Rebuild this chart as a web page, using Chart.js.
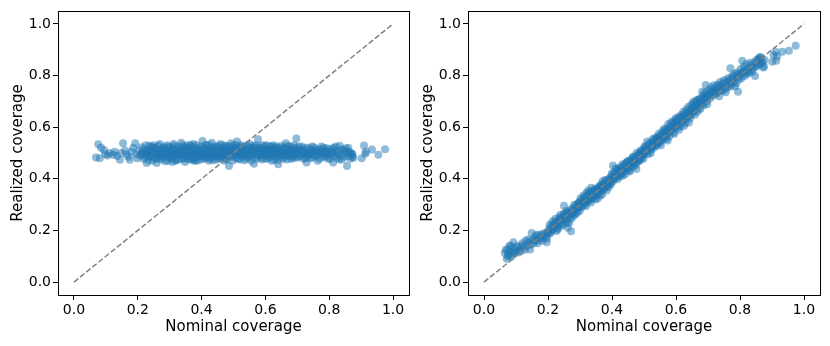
<!DOCTYPE html>
<html>
<head>
<meta charset="utf-8">
<script src="https://cdn.jsdelivr.net/npm/chart.js@4.4.1/dist/chart.umd.min.js"></script>
<style>
  html, body { margin: 0; padding: 0; background: #fff; }
  #wrap { position: relative; width: 830px; height: 346px; }
  #wrap canvas { position: absolute; top: 0; }
</style>
</head>
<body>
<div id="wrap">
  <canvas id="left" width="415" height="346" style="left:0"></canvas>
  <canvas id="right" width="415" height="346" style="left:415px"></canvas>
</div>
<script>
// [nominal, realized] pairs
const leftPoints = [
  [0.069,0.483],[0.076,0.534],[0.081,0.480],[0.085,0.520],[0.094,0.512],[0.098,0.495],[0.105,0.490],[0.112,0.500],
  [0.123,0.493],[0.128,0.505],[0.135,0.488],[0.144,0.474],[0.148,0.500],[0.154,0.538],[0.160,0.510],[0.165,0.495],
  [0.170,0.485],[0.175,0.474],[0.180,0.505],[0.186,0.520],[0.192,0.538],[0.195,0.495],[0.198,0.480],[0.203,0.510],
  [0.208,0.490],
  [0.212,0.522],[0.215,0.500],[0.218,0.478],[0.222,0.505],[0.225,0.530],[0.228,0.461],[0.230,0.492],[0.234,0.515],
  [0.237,0.485],[0.240,0.500],[0.243,0.525],[0.246,0.470],[0.249,0.508],[0.252,0.493],[0.255,0.518],[0.258,0.482],
  [0.259,0.461],[0.262,0.503],[0.265,0.528],[0.268,0.490],[0.270,0.512],[0.273,0.475],[0.276,0.500],[0.279,0.520],
  [0.282,0.486],[0.285,0.507],[0.288,0.495],[0.291,0.530],[0.294,0.470],[0.297,0.510],[0.300,0.490],[0.226,0.498],
  [0.264,0.498],[0.287,0.515],[0.250,0.480],
  [0.211,0.495],[0.219,0.515],[0.223,0.485],[0.231,0.508],[0.236,0.528],[0.241,0.488],[0.244,0.510],[0.251,0.530],
  [0.256,0.498],[0.261,0.478],[0.266,0.512],[0.269,0.535],[0.274,0.495],[0.278,0.482],[0.283,0.522],[0.286,0.468],
  [0.290,0.502],[0.296,0.525],[0.299,0.480],[0.233,0.472],[0.247,0.520],[0.271,0.490],[0.292,0.492],
  [0.303,0.520],[0.306,0.500],[0.309,0.480],[0.312,0.535],[0.315,0.495],[0.318,0.512],[0.321,0.472],[0.324,0.505],
  [0.327,0.525],[0.330,0.488],[0.333,0.500],[0.336,0.540],[0.339,0.478],[0.342,0.515],[0.345,0.495],[0.348,0.465],
  [0.351,0.508],[0.354,0.530],[0.357,0.485],[0.360,0.500],[0.363,0.520],[0.366,0.475],[0.369,0.510],[0.372,0.492],
  [0.375,0.535],[0.378,0.482],[0.381,0.505],[0.384,0.520],[0.387,0.470],[0.390,0.500],[0.393,0.515],[0.396,0.488],
  [0.399,0.525],[0.318,0.490],[0.345,0.480],[0.370,0.525],[0.335,0.505],[0.355,0.498],[0.385,0.495],[0.308,0.465],
  [0.302,0.505],[0.305,0.485],[0.311,0.515],[0.314,0.528],[0.317,0.470],[0.322,0.492],[0.326,0.510],[0.329,0.475],
  [0.332,0.520],[0.337,0.492],[0.341,0.530],[0.344,0.505],[0.349,0.488],[0.352,0.522],[0.356,0.475],[0.359,0.512],
  [0.362,0.490],[0.365,0.532],[0.368,0.480],[0.371,0.505],[0.374,0.515],[0.377,0.495],[0.380,0.472],[0.383,0.508],
  [0.386,0.530],[0.389,0.485],[0.392,0.500],[0.395,0.512],[0.398,0.475],[0.313,0.500],[0.347,0.518],[0.376,0.470],
  [0.403,0.546],[0.405,0.498],[0.408,0.478],[0.411,0.515],[0.414,0.490],[0.417,0.530],[0.420,0.505],[0.423,0.470],
  [0.426,0.520],[0.429,0.495],[0.432,0.540],[0.435,0.485],[0.438,0.510],[0.441,0.500],[0.444,0.525],[0.447,0.475],
  [0.450,0.505],[0.453,0.490],[0.456,0.520],[0.459,0.535],[0.462,0.482],[0.465,0.500],[0.468,0.515],[0.471,0.470],
  [0.474,0.508],[0.477,0.528],[0.480,0.492],[0.483,0.515],[0.486,0.450],[0.489,0.500],[0.492,0.538],[0.495,0.485],
  [0.498,0.510],[0.415,0.505],[0.437,0.498],[0.458,0.495],[0.476,0.480],[0.494,0.520],[0.428,0.478],[0.468,0.530],
  [0.401,0.505],[0.404,0.485],[0.407,0.520],[0.410,0.495],[0.413,0.532],[0.416,0.480],[0.419,0.512],[0.422,0.495],
  [0.425,0.505],[0.427,0.530],[0.431,0.488],[0.434,0.515],[0.437,0.472],[0.440,0.520],[0.443,0.492],[0.446,0.510],
  [0.449,0.485],[0.452,0.528],[0.455,0.500],[0.458,0.478],[0.461,0.515],[0.464,0.490],[0.467,0.505],[0.470,0.522],
  [0.473,0.490],[0.476,0.512],[0.479,0.475],[0.482,0.505],[0.485,0.525],[0.488,0.488],[0.491,0.510],[0.494,0.498],
  [0.497,0.470],[0.499,0.530],
  [0.502,0.500],[0.505,0.520],[0.508,0.482],[0.511,0.545],[0.514,0.495],[0.517,0.510],[0.520,0.475],[0.523,0.530],
  [0.526,0.500],[0.529,0.488],[0.532,0.515],[0.535,0.495],[0.538,0.525],[0.541,0.478],[0.544,0.505],[0.547,0.490],
  [0.550,0.535],[0.553,0.512],[0.556,0.470],[0.559,0.500],[0.562,0.520],[0.564,0.458],[0.567,0.495],[0.570,0.530],
  [0.573,0.485],[0.577,0.553],[0.580,0.505],[0.583,0.490],[0.586,0.520],[0.589,0.475],[0.592,0.510],[0.595,0.498],
  [0.598,0.528],[0.525,0.510],[0.575,0.515],
  [0.501,0.512],[0.504,0.490],[0.507,0.530],[0.510,0.505],[0.513,0.478],[0.516,0.522],[0.519,0.498],[0.522,0.512],
  [0.525,0.485],[0.528,0.525],[0.531,0.500],[0.534,0.472],[0.537,0.510],[0.540,0.495],[0.543,0.530],[0.546,0.508],
  [0.549,0.482],[0.552,0.498],[0.555,0.520],[0.558,0.488],[0.561,0.505],[0.565,0.528],[0.568,0.510],[0.571,0.478],
  [0.574,0.500],[0.578,0.492],[0.581,0.522],[0.584,0.505],[0.587,0.482],[0.590,0.530],[0.593,0.495],[0.596,0.512],
  [0.599,0.478],
  [0.602,0.490],[0.605,0.515],[0.608,0.478],[0.611,0.505],[0.614,0.525],[0.617,0.495],[0.620,0.470],[0.623,0.510],
  [0.626,0.500],[0.629,0.520],[0.632,0.485],[0.635,0.505],[0.638,0.472],[0.640,0.456],[0.643,0.512],[0.646,0.495],
  [0.649,0.528],[0.652,0.482],[0.655,0.505],[0.658,0.518],[0.661,0.490],[0.664,0.538],[0.667,0.475],[0.670,0.500],
  [0.673,0.515],[0.676,0.488],[0.679,0.525],[0.682,0.497],[0.685,0.480],[0.688,0.510],[0.691,0.530],[0.694,0.492],
  [0.697,0.556],[0.699,0.505],[0.625,0.530],
  [0.601,0.510],[0.604,0.530],[0.607,0.495],[0.610,0.485],[0.613,0.515],[0.616,0.505],[0.619,0.525],[0.622,0.488],
  [0.625,0.498],[0.628,0.475],[0.631,0.512],[0.634,0.525],[0.637,0.498],[0.641,0.485],[0.644,0.520],[0.647,0.505],
  [0.650,0.490],[0.653,0.515],[0.656,0.478],[0.659,0.500],[0.662,0.522],[0.665,0.505],[0.668,0.490],[0.671,0.528],
  [0.674,0.495],[0.677,0.510],[0.680,0.478],[0.683,0.515],[0.686,0.500],[0.689,0.488],[0.692,0.512],[0.695,0.520],
  [0.698,0.482],
  [0.703,0.485],[0.707,0.515],[0.711,0.500],[0.715,0.525],[0.719,0.478],[0.723,0.505],[0.727,0.492],[0.729,0.463],
  [0.732,0.520],[0.736,0.500],[0.740,0.480],[0.744,0.510],[0.748,0.495],[0.752,0.522],[0.756,0.488],[0.760,0.505],
  [0.764,0.470],[0.768,0.515],[0.772,0.498],[0.776,0.525],[0.780,0.485],[0.784,0.505],[0.788,0.492],[0.792,0.518],
  [0.796,0.478],
  [0.701,0.500],[0.705,0.525],[0.709,0.488],[0.713,0.510],[0.717,0.495],[0.721,0.518],[0.725,0.480],[0.730,0.502],
  [0.734,0.490],[0.738,0.515],[0.742,0.495],[0.746,0.525],[0.750,0.482],[0.754,0.505],[0.758,0.515],[0.762,0.490],
  [0.766,0.502],[0.770,0.478],[0.774,0.512],[0.778,0.500],[0.782,0.520],[0.786,0.485],[0.790,0.505],[0.794,0.495],
  [0.798,0.515],[0.803,0.478],[0.808,0.500],[0.814,0.520],[0.818,0.488],[0.826,0.498],[0.831,0.475],[0.838,0.515],
  [0.846,0.485],[0.854,0.505],[0.860,0.520],[0.868,0.500],[0.872,0.485],
  [0.800,0.505],[0.805,0.490],[0.810,0.515],[0.812,0.463],[0.816,0.500],[0.820,0.525],[0.824,0.482],[0.828,0.508],
  [0.833,0.528],[0.836,0.492],[0.840,0.475],[0.844,0.510],[0.848,0.498],[0.852,0.518],[0.856,0.450],[0.858,0.488],
  [0.862,0.505],[0.866,0.478],[0.870,0.495],[0.873,0.496],[0.876,0.482],[0.902,0.480],[0.909,0.529],[0.913,0.497],
  [0.915,0.505],[0.934,0.514],[0.954,0.493],[0.975,0.515]
];

const rightPoints = [
  [0.065,0.113],[0.071,0.090],[0.073,0.125],[0.076,0.105],[0.079,0.139],[0.082,0.118],[0.085,0.098],[0.088,0.130],
  [0.092,0.154],[0.095,0.115],[0.098,0.122],[0.105,0.140],[0.110,0.128],[0.115,0.120],[0.120,0.150],[0.125,0.135],
  [0.130,0.160],[0.135,0.142],[0.140,0.155],[0.144,0.126],[0.149,0.190],[0.152,0.165],[0.156,0.150],[0.160,0.175],
  [0.165,0.160],[0.170,0.182],[0.175,0.168],[0.180,0.185],[0.185,0.172],[0.190,0.190],[0.194,0.178],[0.196,0.154],
  [0.199,0.195],
  [0.068,0.125],[0.074,0.100],[0.083,0.142],[0.090,0.108],[0.100,0.135],[0.108,0.115],[0.118,0.140],[0.128,0.125],
  [0.138,0.165],[0.146,0.145],[0.158,0.160],[0.163,0.182],[0.168,0.150],[0.178,0.175],[0.183,0.160],[0.188,0.182],
  [0.197,0.170],
  [0.203,0.205],[0.206,0.188],[0.209,0.215],[0.212,0.200],[0.215,0.222],[0.218,0.208],[0.221,0.232],[0.224,0.215],
  [0.227,0.198],[0.230,0.240],[0.233,0.225],[0.236,0.250],[0.239,0.230],[0.242,0.218],[0.245,0.255],[0.248,0.240],
  [0.250,0.296],[0.253,0.262],[0.256,0.245],[0.259,0.228],[0.262,0.210],[0.264,0.270],[0.267,0.255],[0.270,0.280],
  [0.272,0.197],[0.274,0.262],[0.277,0.285],[0.280,0.270],[0.283,0.290],[0.286,0.275],[0.289,0.300],[0.292,0.282],
  [0.295,0.305],[0.298,0.290],[0.230,0.205],[0.258,0.275],
  [0.201,0.190],[0.205,0.222],[0.210,0.195],[0.214,0.235],[0.219,0.215],[0.223,0.245],[0.226,0.228],[0.231,0.210],
  [0.235,0.238],[0.238,0.260],[0.241,0.245],[0.246,0.222],[0.249,0.265],[0.254,0.250],[0.257,0.270],[0.261,0.240],
  [0.266,0.230],[0.268,0.268],[0.273,0.245],[0.276,0.270],[0.279,0.255],[0.282,0.300],[0.285,0.262],[0.288,0.282],
  [0.291,0.268],[0.294,0.290],[0.297,0.310],[0.299,0.275],
  [0.301,0.310],[0.304,0.295],[0.307,0.320],[0.310,0.305],[0.313,0.328],[0.316,0.312],[0.319,0.295],[0.322,0.335],
  [0.325,0.318],[0.328,0.345],[0.331,0.325],[0.334,0.308],[0.337,0.350],[0.340,0.330],[0.343,0.355],[0.346,0.338],
  [0.349,0.320],[0.352,0.360],[0.355,0.342],[0.358,0.368],[0.361,0.350],[0.364,0.335],[0.367,0.375],[0.370,0.390],
  [0.373,0.360],[0.376,0.382],[0.379,0.368],[0.382,0.392],[0.385,0.375],[0.388,0.398],[0.391,0.380],[0.394,0.405],
  [0.397,0.388],[0.345,0.352],[0.362,0.365],[0.333,0.330],
  [0.302,0.325],[0.305,0.290],[0.308,0.305],[0.311,0.335],[0.314,0.300],[0.317,0.322],[0.320,0.345],[0.323,0.310],
  [0.326,0.355],[0.329,0.318],[0.332,0.342],[0.335,0.365],[0.338,0.322],[0.341,0.345],[0.344,0.330],[0.347,0.362],
  [0.350,0.335],[0.353,0.345],[0.356,0.325],[0.359,0.352],[0.363,0.375],[0.366,0.355],[0.369,0.340],[0.372,0.378],
  [0.375,0.362],[0.378,0.395],[0.381,0.372],[0.384,0.355],[0.387,0.385],[0.390,0.368],[0.393,0.395],[0.396,0.378],
  [0.399,0.420],
  [0.400,0.410],[0.403,0.452],[0.406,0.398],[0.409,0.420],[0.412,0.405],[0.415,0.430],[0.418,0.412],[0.421,0.438],
  [0.424,0.420],[0.427,0.445],[0.430,0.428],[0.433,0.412],[0.436,0.450],[0.439,0.435],[0.442,0.458],[0.445,0.440],
  [0.448,0.465],[0.451,0.448],[0.454,0.432],[0.457,0.470],[0.460,0.455],[0.463,0.478],[0.466,0.460],[0.469,0.485],
  [0.472,0.468],[0.476,0.438],[0.479,0.490],[0.482,0.472],[0.485,0.498],[0.488,0.480],[0.491,0.505],[0.494,0.488],
  [0.497,0.512],[0.420,0.425],[0.460,0.470],[0.490,0.495],
  [0.402,0.390],[0.405,0.425],[0.408,0.405],[0.411,0.440],[0.414,0.418],[0.417,0.398],[0.420,0.440],[0.423,0.408],
  [0.426,0.432],[0.429,0.418],[0.432,0.455],[0.435,0.425],[0.438,0.445],[0.441,0.418],[0.444,0.462],[0.447,0.438],
  [0.450,0.470],[0.453,0.452],[0.456,0.428],[0.459,0.462],[0.462,0.445],[0.465,0.485],[0.468,0.450],[0.471,0.478],
  [0.474,0.455],[0.477,0.500],[0.480,0.465],[0.483,0.490],[0.486,0.470],[0.489,0.510],[0.492,0.478],[0.495,0.500],
  [0.498,0.478],
  [0.500,0.495],[0.503,0.520],[0.506,0.505],[0.509,0.528],[0.512,0.510],[0.515,0.535],[0.518,0.518],[0.521,0.500],
  [0.524,0.540],[0.527,0.525],[0.530,0.548],[0.535,0.551],[0.538,0.532],[0.541,0.558],[0.544,0.540],[0.547,0.565],
  [0.550,0.548],[0.553,0.530],[0.556,0.572],[0.559,0.555],[0.562,0.580],[0.565,0.562],[0.568,0.590],[0.571,0.570],
  [0.574,0.548],[0.577,0.598],[0.580,0.580],[0.583,0.605],[0.586,0.588],[0.589,0.612],[0.592,0.595],[0.595,0.575],
  [0.598,0.618],[0.540,0.545],[0.575,0.585],
  [0.501,0.525],[0.504,0.498],[0.507,0.518],[0.510,0.545],[0.513,0.495],[0.516,0.520],[0.519,0.538],[0.522,0.512],
  [0.525,0.528],[0.528,0.555],[0.531,0.520],[0.534,0.540],[0.537,0.560],[0.540,0.528],[0.543,0.552],[0.546,0.575],
  [0.549,0.540],[0.552,0.565],[0.555,0.548],[0.558,0.585],[0.561,0.560],[0.564,0.595],[0.567,0.572],[0.570,0.555],
  [0.573,0.592],[0.576,0.612],[0.579,0.565],[0.582,0.590],[0.585,0.620],[0.588,0.598],[0.591,0.578],[0.594,0.625],
  [0.597,0.600],[0.599,0.635],
  [0.601,0.605],[0.604,0.630],[0.607,0.612],[0.610,0.590],[0.613,0.635],[0.616,0.618],[0.619,0.642],[0.622,0.625],
  [0.625,0.605],[0.628,0.650],[0.631,0.632],[0.634,0.658],[0.637,0.640],[0.640,0.618],[0.643,0.665],[0.646,0.648],
  [0.649,0.672],[0.652,0.655],[0.655,0.690],[0.658,0.665],[0.661,0.700],[0.664,0.680],[0.667,0.660],[0.670,0.705],
  [0.673,0.688],[0.676,0.670],[0.679,0.695],[0.682,0.737],[0.685,0.708],[0.688,0.685],[0.691,0.718],[0.693,0.763],
  [0.696,0.700],[0.699,0.725],[0.660,0.680],[0.640,0.645],
  [0.602,0.618],[0.605,0.598],[0.608,0.640],[0.611,0.620],[0.614,0.605],[0.617,0.648],[0.620,0.628],[0.623,0.660],
  [0.626,0.638],[0.629,0.615],[0.632,0.668],[0.635,0.645],[0.638,0.678],[0.641,0.655],[0.644,0.635],[0.647,0.685],
  [0.650,0.662],[0.653,0.698],[0.656,0.672],[0.659,0.648],[0.662,0.685],[0.665,0.705],[0.668,0.690],[0.671,0.672],
  [0.674,0.710],[0.677,0.695],[0.680,0.715],[0.683,0.690],[0.686,0.725],[0.689,0.705],[0.692,0.735],[0.695,0.712],
  [0.698,0.690],
  [0.703,0.730],[0.707,0.712],[0.711,0.740],[0.715,0.722],[0.719,0.748],[0.723,0.730],[0.727,0.755],[0.731,0.738],
  [0.735,0.720],[0.739,0.762],[0.743,0.745],[0.747,0.770],[0.751,0.752],[0.755,0.735],[0.759,0.778],[0.763,0.760],
  [0.767,0.785],[0.770,0.828],[0.773,0.768],[0.777,0.792],[0.781,0.775],[0.785,0.758],[0.789,0.800],[0.794,0.737],
  [0.797,0.785],
  [0.702,0.745],[0.706,0.725],[0.710,0.755],[0.714,0.735],[0.718,0.762],[0.722,0.742],[0.726,0.730],[0.730,0.765],
  [0.734,0.748],[0.738,0.775],[0.742,0.758],[0.746,0.740],[0.750,0.782],[0.754,0.765],[0.758,0.750],[0.762,0.790],
  [0.766,0.772],[0.771,0.758],[0.776,0.800],[0.780,0.785],[0.784,0.808],[0.788,0.770],[0.792,0.812],[0.796,0.795],
  [0.802,0.825],[0.806,0.808],[0.812,0.835],[0.816,0.812],[0.820,0.845],[0.825,0.818],[0.832,0.850],[0.838,0.815],
  [0.843,0.835],[0.850,0.858],[0.855,0.840],[0.862,0.872],[0.868,0.848],[0.875,0.835],
  [0.801,0.805],[0.804,0.790],[0.807,0.857],[0.810,0.815],[0.814,0.798],[0.818,0.822],[0.822,0.805],[0.826,0.830],
  [0.830,0.812],[0.835,0.840],[0.840,0.825],[0.844,0.850],[0.847,0.798],[0.852,0.835],[0.856,0.862],[0.859,0.866],
  [0.863,0.845],[0.866,0.870],[0.870,0.853],[0.873,0.831],[0.877,0.860],[0.901,0.853],[0.905,0.880],[0.911,0.892],
  [0.913,0.857],[0.916,0.875],[0.932,0.892],[0.953,0.896],[0.974,0.915]
];

const idealLine = [[0, 0], [1, 1]];
const tickValues = [0, 0.2, 0.4, 0.6, 0.8, 1.0];
const xTitle = 'Nominal coverage';
const yTitle = 'Realized coverage';

const FONT = "'DejaVu Sans', sans-serif";

// draws the full box around the plot area (matplotlib spines)
const framePlugin = {
  id: 'frame',
  afterDraw(chart) {
    const { ctx, chartArea: a } = chart;
    ctx.save();
    ctx.strokeStyle = '#000';
    ctx.lineWidth = 1;
    ctx.strokeRect(Math.round(a.left) + 0.5, Math.round(a.top) + 0.5,
      Math.round(a.right - a.left), Math.round(a.bottom - a.top));
    ctx.restore();
  }
};

function makeChart(id, points, opts) {
  const axis = (title, titlePad, fit) => ({
    type: 'linear',
    min: -0.05,
    max: 1.05,
    afterBuildTicks: s => { s.ticks = tickValues.map(v => ({ value: v })); },
    afterFit: fit,
    grid: { drawOnChartArea: false, drawTicks: true, tickLength: 5, color: '#000', tickWidth: 1 },
    border: { display: false },
    ticks: {
      color: '#000',
      padding: 2,
      font: { family: FONT, size: 14 },
      callback: v => v.toFixed(1)
    },
    title: { display: true, text: title, color: '#000', font: { family: FONT, size: 15 }, padding: titlePad }
  });

  return new Chart(document.getElementById(id), {
    type: 'scatter',
    data: {
      datasets: [
        {
          type: 'line',
          data: idealLine.map(([x, y]) => ({ x, y })),
          borderColor: '#808080',
          borderWidth: 1.5,
          borderDash: [5.5, 2.4],
          pointRadius: 0,
          fill: false,
          order: 0
        },
        {
          data: points.map(([x, y]) => ({ x, y })),
          backgroundColor: 'rgba(31, 119, 180, 0.5)',
          borderWidth: 0,
          pointRadius: 4,
          order: 1
        }
      ]
    },
    options: {
      responsive: false,
      animation: false,
      layout: { padding: { top: 11, right: opts.padRight, bottom: 0, left: 0 } },
      plugins: { legend: { display: false }, tooltip: { enabled: false } },
      scales: {
        x: axis(xTitle, { top: 0, bottom: 10 }, s => { s.height = 51; }),
        y: axis(yTitle, { top: opts.yTitlePad, bottom: 0 }, s => { s.width = opts.yWidth; })
      }
    },
    plugins: [framePlugin]
  });
}

makeChart('left', leftPoints, { yWidth: 58, padRight: 6, yTitlePad: 9 });
makeChart('right', rightPoints, { yWidth: 53, padRight: 10, yTitlePad: 4 });
</script>
</body>
</html>
